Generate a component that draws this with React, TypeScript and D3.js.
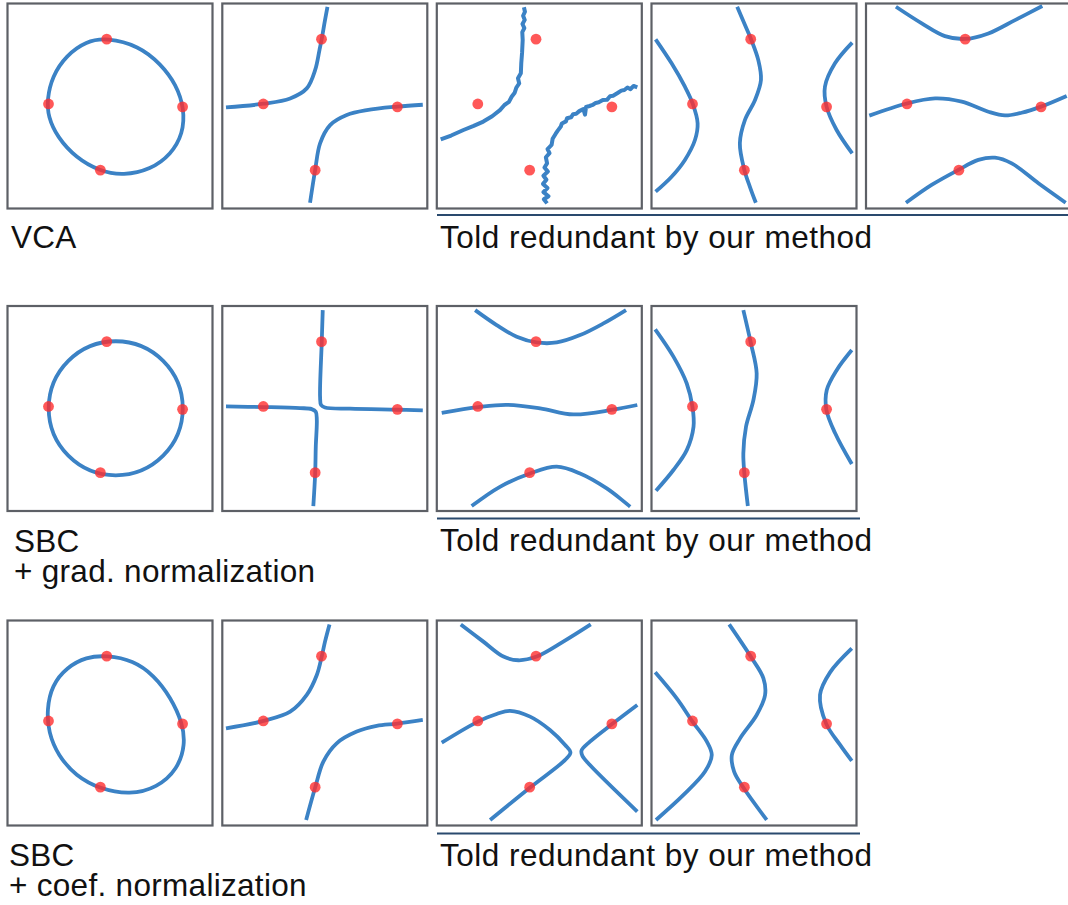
import React from "react";
import * as d3 from "d3";

type Pt = [number, number];

// points shared by every panel (panel units: 0..100, y up)
const samplePoints: Pt[] = [
  [48.4, 82.6],
  [20.0, 51.0],
  [85.4, 49.6],
  [45.3, 18.7],
];

// ---- row 1: VCA ----
const vcaEllipse: Pt[] = [
  [48.4, 83.3], [64.0, 79.4], [74.8, 70.5], [82.3, 60.5], [86.3, 48.5], [85.6, 36.5],
  [79.8, 26.4], [69.9, 19.0], [56.5, 16.1], [45.1, 18.1], [33.3, 24.8], [24.3, 34.8],
  [19.8, 44.8], [19.3, 53.2], [21.8, 64.5], [28.6, 74.6], [38.4, 81.6],
];
const vcaHypA: Pt[] = [
  [1.8, 49.3], [20.1, 51.1], [33.1, 53.7], [41.2, 58.6], [45.3, 67.6], [47.4, 77.3],
  [48.5, 82.7], [50.1, 91.9], [51.3, 98.4],
];
const vcaHypB: Pt[] = [
  [42.8, 2.8], [45.3, 18.8], [47.7, 31.8], [52.6, 40.7], [60.7, 45.6], [70.5, 48.0],
  [85.4, 49.7], [97.8, 50.6],
];
const vcaNoisyA: Pt[] = [
  [1.9, 33.7], [7, 35.6], [13, 38.3], [18, 40.3], [22.7, 42.4], [27, 45], [30.8, 48],
  [33, 50.5], [35.2, 52], [36.5, 54.5], [38, 56.5], [38.8, 59], [40.2, 61], [39.6, 63.5],
  [41, 66], [41.2, 70.8], [41.6, 76], [41.9, 82.2], [41.7, 86], [42.7, 88], [41.8, 90],
  [42.9, 92], [42.1, 94], [43.0, 96], [42.5, 98.2],
];
const vcaNoisyB: Pt[] = [
  [53.8, 2.5], [52.2, 4.5], [54.5, 6], [52.0, 8], [54.0, 10], [51.8, 12], [53.5, 14],
  [52.0, 16], [54.2, 18], [52.5, 20], [53.8, 22], [53.2, 25], [55.0, 27], [54.0, 29],
  [56.0, 31], [56.5, 34], [58.0, 36.5], [59.0, 38], [60.5, 40], [61.0, 41.5], [63.0, 42.5],
  [63.5, 44], [65.5, 44.5], [66.5, 46], [68.0, 46.2], [69.5, 47.5], [71.5, 48.5],
  [72.3, 45.8], [72.8, 49.5], [74.5, 50], [76, 50.5], [77.5, 51.5], [79, 51.8], [81, 52.9],
  [83, 53], [84.5, 54.8], [86, 55], [88, 56.2], [90, 57.5], [91.5, 57.8], [93, 59],
  [94.5, 58.2], [96, 59.8], [97.8, 59.1],
];
const vcaVertLeft: Pt[] = [
  [2.0, 82.5], [9.8, 70.8], [16.3, 59.4], [20.1, 51.1], [22.5, 41.5], [21.2, 33.4],
  [16.3, 23.7], [9.8, 15.5], [2.0, 8.2],
];
const vcaVertMid: Pt[] = [
  [41.8, 98.4], [45.6, 89.5], [48.5, 82.7], [52.1, 72.4], [53.4, 62.7], [50.5, 52.9],
  [45.6, 43.2], [43.1, 31.8], [45.3, 18.8], [48.0, 10.6], [50.9, 2.8],
];
const vcaVertRight: Pt[] = [
  [97.9, 80.9], [89.5, 70.8], [84.6, 59.4], [85.4, 49.7], [90.3, 38.3], [97.9, 26.9],
];
const vcaHorTop: Pt[] = [
  [14.6, 98.4], [27.2, 90.3], [38.5, 84.1], [48.3, 82.7], [59.7, 85.4], [72.7, 91.9], [86.0, 98.8],
];
const vcaHorMid: Pt[] = [
  [1.6, 45.3], [19.5, 51.1], [33.7, 53.7], [46.7, 52.1], [59.7, 47.2], [67.8, 45.4],
  [75.9, 46.7], [85.4, 49.7], [97.9, 54.9],
];
const vcaHorBot: Pt[] = [
  [19.5, 2.8], [32.0, 11.5], [45.0, 18.8], [54.8, 23.7], [62.9, 24.8], [71.1, 22.0],
  [84.1, 12.3], [97.4, 2.8],
];

// ---- row 2: SBC + grad. normalization ----
const gradCircle = { cx: 52.8, cy: 50.1, r: 32.7 };
const gradCrossA: Pt[] = [
  [1.8, 51.0], [20.1, 50.7], [37.9, 50.2], [43.6, 49.7], [45.6, 48.4], [46.1, 44.4],
  [45.6, 31.4], [45.3, 18.3], [44.4, 2.4],
];
const gradCrossB: Pt[] = [
  [49.0, 98.0], [48.5, 82.2], [47.7, 55.7], [48.2, 51.7], [50.1, 50.5], [62.3, 49.9],
  [85.4, 49.4], [97.8, 49.1],
];
const gradHorTop: Pt[] = [
  [18.7, 98.0], [29.2, 90.7], [39.0, 85.0], [48.7, 82.2], [58.5, 82.2], [69.9, 85.8],
  [81.3, 91.5], [92.3, 98.0],
];
const gradHorMid: Pt[] = [
  [2.4, 47.9], [20.3, 50.7], [34.1, 51.8], [50.4, 50.1], [66.6, 47.1], [85.8, 49.4], [97.8, 51.7],
];
const gradHorBot: Pt[] = [
  [17.0, 2.4], [30.8, 11.8], [45.5, 18.3], [58.5, 21.6], [69.9, 18.3], [82.9, 11.0], [94.3, 2.1],
];
const gradVertLeft: Pt[] = [
  [1.8, 88.6], [10.7, 75.3], [17.2, 62.2], [20.0, 50.7], [20.5, 41.1], [17.2, 29.7],
  [10.7, 20.0], [2.2, 9.9],
];
const gradVertMid: Pt[] = [
  [44.8, 98.0], [48.4, 82.2], [51.3, 67.1], [49.7, 54.1], [46.1, 41.1], [44.8, 28.1],
  [45.3, 18.3], [47.0, 2.4],
];
const gradVertRight: Pt[] = [
  [97.7, 78.5], [90.4, 68.8], [85.5, 59.0], [85.3, 49.4], [89.6, 37.9], [97.7, 22.9],
];

// ---- row 3: SBC + coef. normalization ----
const coefEllipse: Pt[] = [
  [48.4, 83.0], [61.3, 80.5], [71.5, 73.2], [79.6, 62.5], [85.4, 50.0], [86.7, 39.3],
  [83.0, 27.5], [73.0, 18.4], [59.7, 15.0], [45.1, 17.8], [33.3, 24.2], [24.6, 34.2],
  [20.0, 45.5], [19.2, 56.5], [21.6, 68.4], [29.0, 77.2], [38.4, 82.2],
];
const coefHypA: Pt[] = [
  [1.8, 47.4], [20.1, 51.0], [33.1, 55.5], [41.2, 63.7], [46.1, 73.4], [48.5, 82.4],
  [50.1, 89.7], [52.3, 98.1],
];
const coefHypB: Pt[] = [
  [40.9, 2.7], [45.3, 18.5], [49.3, 31.2], [55.8, 40.1], [65.6, 45.8], [75.3, 48.6],
  [85.4, 49.7], [97.8, 51.5],
];
const coefMixTop: Pt[] = [
  [11.7, 98.1], [22.7, 89.7], [32.5, 82.4], [39.8, 80.6], [48.7, 82.4], [61.7, 89.7], [75.1, 98.1],
];
const coefMixLeft: Pt[] = [
  [2.4, 40.4], [20.3, 50.8], [29.2, 54.4], [35.7, 55.9], [45.5, 53.1], [55.2, 46.6],
  [62.6, 39.3], [65.2, 35.6], [62.6, 32.0], [45.5, 18.5], [26.0, 2.7],
];
const coefMixRight: Pt[] = [
  [97.8, 58.8], [85.8, 49.7], [74.7, 40.9], [70.6, 36.6], [71.0, 34.0], [74.7, 29.5], [97.8, 6.8],
];
const coefVertLeft: Pt[] = [
  [1.8, 74.7], [12.3, 62.0], [20.0, 50.7], [27.0, 40.9], [29.4, 34.4], [26.1, 26.3],
  [15.6, 14.9], [2.2, 2.7],
];
const coefVertMid: Pt[] = [
  [37.9, 98.1], [48.4, 82.4], [54.6, 71.8], [55.4, 63.7], [51.3, 53.9], [43.2, 42.5],
  [39.2, 34.4], [40.3, 26.3], [44.8, 18.5], [56.2, 2.7],
];
const coefVertRight: Pt[] = [
  [97.7, 86.4], [87.1, 74.7], [82.2, 63.7], [85.2, 49.7], [92.0, 39.3], [97.7, 31.5],
];

const rowLabels: string[][] = [["VCA"], ["SBC", "+ grad. normalization"], ["SBC", "+ coef. normalization"]];
const redundantLabel = "Told redundant by our method";

type Curve = { pts: Pt[]; closed?: boolean; noisy?: boolean };
type Panel = { row: number; col: number; curves: Curve[]; circle?: typeof gradCircle };

const panels: Panel[] = [
  { row: 0, col: 0, curves: [{ pts: vcaEllipse, closed: true }] },
  { row: 0, col: 1, curves: [{ pts: vcaHypA }, { pts: vcaHypB }] },
  { row: 0, col: 2, curves: [{ pts: vcaNoisyA, noisy: true }, { pts: vcaNoisyB, noisy: true }] },
  { row: 0, col: 3, curves: [{ pts: vcaVertLeft }, { pts: vcaVertMid }, { pts: vcaVertRight }] },
  { row: 0, col: 4, curves: [{ pts: vcaHorTop }, { pts: vcaHorMid }, { pts: vcaHorBot }] },
  { row: 1, col: 0, curves: [], circle: gradCircle },
  { row: 1, col: 1, curves: [{ pts: gradCrossA }, { pts: gradCrossB }] },
  { row: 1, col: 2, curves: [{ pts: gradHorTop }, { pts: gradHorMid }, { pts: gradHorBot }] },
  { row: 1, col: 3, curves: [{ pts: gradVertLeft }, { pts: gradVertMid }, { pts: gradVertRight }] },
  { row: 2, col: 0, curves: [{ pts: coefEllipse, closed: true }] },
  { row: 2, col: 1, curves: [{ pts: coefHypA }, { pts: coefHypB }] },
  { row: 2, col: 2, curves: [{ pts: coefMixTop }, { pts: coefMixLeft }, { pts: coefMixRight }] },
  { row: 2, col: 3, curves: [{ pts: coefVertLeft }, { pts: coefVertMid }, { pts: coefVertRight }] },
];

// layout
const W = 1068;
const H = 905;
const SIZE = 205;
const colLeft = [7.5, 222.3, 436.8, 651.5, 866];
const rowTop = [3.5, 306, 620.5];
const rowColsEnd = [1068, 860, 860];
const FONT = "'Liberation Sans', Arial, Helvetica, sans-serif";
const BLUE = "#3b82c5";
const RED = "#ff2e2e";
const LW = 3.8;

const PanelView: React.FC<{ p: Panel; idx: number }> = ({ p, idx }) => {
  const left = colLeft[p.col];
  const top = rowTop[p.row];
  const x = d3.scaleLinear().domain([0, 100]).range([left, left + SIZE]);
  const y = d3.scaleLinear().domain([0, 100]).range([top + SIZE, top]);
  const open = d3.line<Pt>().x((d) => x(d[0])).y((d) => y(d[1])).curve(d3.curveCatmullRom.alpha(0.5));
  const closed = d3.line<Pt>().x((d) => x(d[0])).y((d) => y(d[1])).curve(d3.curveBasisClosed);
  const jag = d3.line<Pt>().x((d) => x(d[0])).y((d) => y(d[1]));
  const clipId = `clip-${idx}`;
  return (
    <g>
      <clipPath id={clipId}>
        <rect x={left} y={top} width={SIZE} height={SIZE} />
      </clipPath>
      <rect x={left} y={top} width={SIZE} height={SIZE} fill="#fff" />
      <g clipPath={`url(#${clipId})`}>
        {p.circle && (
          <ellipse
            cx={x(p.circle.cx)}
            cy={y(p.circle.cy)}
            rx={x(p.circle.r) - x(0)}
            ry={y(0) - y(p.circle.r)}
            fill="none"
            stroke={BLUE}
            strokeWidth={LW}
          />
        )}
        {p.curves.map((c, i) => (
          <path
            key={i}
            d={(c.closed ? closed : c.noisy ? jag : open)(c.pts) || ""}
            fill="none"
            stroke={BLUE}
            strokeWidth={c.noisy ? 4 : LW}
            strokeLinejoin="round"
          />
        ))}
        {samplePoints.map((d, i) => (
          <circle key={i} cx={x(d[0])} cy={y(d[1])} r={5.4} fill={RED} fillOpacity={0.8} />
        ))}
      </g>
      <rect x={left} y={top} width={SIZE} height={SIZE} fill="none" stroke="#5d6066" strokeWidth={2.2} />
    </g>
  );
};

export default function App() {
  const labelBase = [
    [247.5],
    [552, 582],
    [866, 896],
  ];
  const labelX = [11, 14, 9];
  const lineY = [215, 518.5, 833.5];
  const redundantBase = [247.5, 551, 866];
  return (
    <div style={{ position: "absolute", left: 0, top: 0, background: "#fff" }}>
      <svg width={W} height={H} style={{ display: "block" }}>
        <rect width={W} height={H} fill="#fff" />
        {panels.map((p, i) => (
          <PanelView key={i} p={p} idx={i} />
        ))}
        {rowLabels.map((lines, r) => (
          <g key={r}>
            {lines.map((t, j) => (
              <text key={j} x={labelX[r]} y={labelBase[r][j]} fontFamily={FONT} fontSize={31.5} letterSpacing={0.3} fill="#111">
                {t}
              </text>
            ))}
            <line x1={437} x2={rowColsEnd[r]} y1={lineY[r]} y2={lineY[r]} stroke="#2a4a6e" strokeWidth={2} />
            <text x={440} y={redundantBase[r]} fontFamily={FONT} fontSize={31.5} letterSpacing={0.5} fill="#111">
              {redundantLabel}
            </text>
          </g>
        ))}
      </svg>
    </div>
  );
}
